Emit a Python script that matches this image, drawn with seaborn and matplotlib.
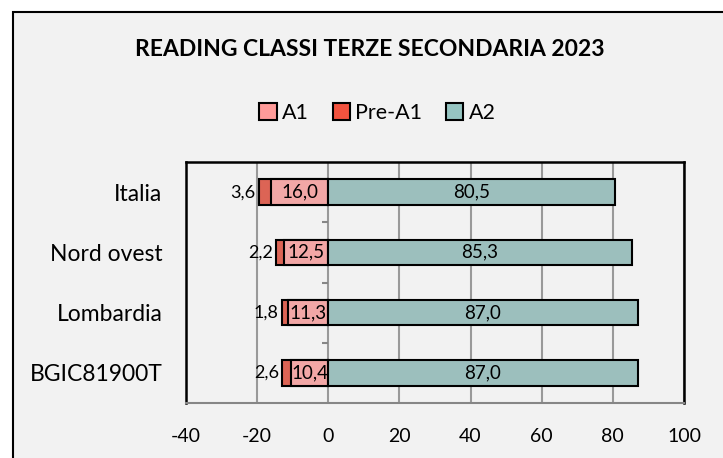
import matplotlib
matplotlib.use("Agg")
import matplotlib.pyplot as plt
import pandas as pd
import seaborn as sns
from matplotlib.patches import Rectangle

categories = ["Italia", "Nord ovest", "Lombardia", "BGIC81900T"]
a1 = [16.0, 12.5, 11.3, 10.4]
pre_a1 = [3.6, 2.2, 1.8, 2.6]
a2 = [80.5, 85.3, 87.0, 87.0]

colors = {"A1": "#ff9b99", "Pre-A1": "#f2533f", "A2": "#96c5c2"}
bg = "#f2f2f2"

sns.set_theme(style="white")
plt.rcParams["font.family"] = ["Lato", "DejaVu Sans"]
plt.rcParams["axes.unicode_minus"] = False
plt.rcParams["text.color"] = "black"
plt.rcParams["xtick.color"] = "black"
plt.rcParams["ytick.color"] = "black"

df = pd.DataFrame({"cat": categories, "A1": a1, "Pre-A1": pre_a1, "A2": a2})
df["neg_a1"] = -df["A1"]
df["neg_total"] = -(df["A1"] + df["Pre-A1"])

fig = plt.figure(figsize=(7.23, 4.58), dpi=100)
fig.patch.set_facecolor("white")
fig.patches.append(Rectangle((13 / 723, -0.1), 1.1, 1 - 12 / 458 + 0.1, transform=fig.transFigure,
                             facecolor=bg, edgecolor="black", linewidth=1.5, zorder=-10))
ax = fig.add_axes([186 / 723, 55 / 458, 498 / 723, 241 / 458])
ax.set_facecolor(bg)

bw = 0.42
kw = dict(y="cat", orient="h", width=bw, edgecolor="black", linewidth=1.5, ax=ax, zorder=3)
sns.barplot(data=df, x="neg_total", color=colors["Pre-A1"], **kw)
sns.barplot(data=df, x="neg_a1", color=colors["A1"], **kw)
sns.barplot(data=df, x="A2", color=colors["A2"], **kw)

fmt = lambda v: f"{v:.1f}".replace(".", ",")
for i, row in df.iterrows():
    ax.text(row["neg_a1"] / 2, i, fmt(row["A1"]), ha="center", va="center", fontsize=13.5, zorder=5)
    ax.text(row["neg_total"] - 0.8, i, fmt(row["Pre-A1"]), ha="right", va="center", fontsize=13, zorder=5)
    ax.text(row["A2"] / 2, i, fmt(row["A2"]), ha="center", va="center", fontsize=13.5, zorder=5)

# category separator ticks on the zero axis
ax.hlines([i + 0.5 for i in range(len(categories) - 1)], -1.8, 0, color="#868686", lw=1.5, zorder=2)

ax.set_xlim(-40, 100)
ax.set_ylim(len(categories) - 0.5, -0.5)
ax.set_xticks(range(-40, 101, 20))
ax.xaxis.grid(True, color="#999999", lw=1.5, zorder=1)
ax.set_axisbelow(True)
ax.set_xlabel("")
ax.set_ylabel("")
ax.tick_params(axis="x", direction="out", length=6, width=1.5, color="#868686", labelsize=14, pad=12)
ax.tick_params(axis="y", length=0, labelsize=16.5, pad=17)
for s in ["left", "top", "right"]:
    ax.spines[s].set_color("black")
    ax.spines[s].set_linewidth(1.8)
ax.spines["bottom"].set_color("#868686")
ax.spines["bottom"].set_linewidth(1.5)

handles = [Rectangle((0, 0), 1, 1, facecolor=colors[k], edgecolor="black", linewidth=1.5)
           for k in ["A1", "Pre-A1", "A2"]]
fig.legend(handles, ["A1", "Pre-A1", "A2"], loc="center", bbox_to_anchor=(0.522, 1 - 113 / 458),
           ncol=3, frameon=False, fontsize=15.5, handlelength=0.8, handleheight=0.8,
           handletextpad=0.25, columnspacing=1.1)
fig.text(0.512, 1 - 50 / 458, "READING CLASSI TERZE SECONDARIA 2023", ha="center", va="center",
         fontsize=16.5, fontweight="bold")

fig.savefig("out.png", dpi=100, facecolor=fig.get_facecolor())
